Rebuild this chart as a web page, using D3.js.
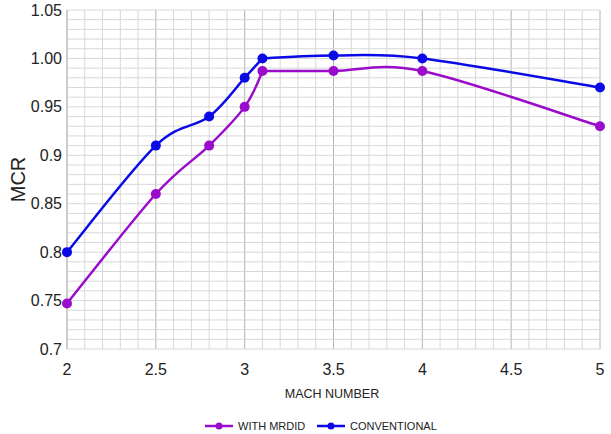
<!DOCTYPE html>
<html>
<head>
<meta charset="utf-8">
<script src="https://cdn.jsdelivr.net/npm/d3@7"></script>
<style>
  body { margin: 0; background: #fff; }
  text { font-family: "Liberation Sans", Arial, sans-serif; fill: #222; }
</style>
</head>
<body>
<svg id="chart" width="611" height="434"></svg>
<script>
const MACH = [2, 2.5, 2.8, 3, 3.1, 3.5, 4, 5];
const MRDID = [0.747, 0.86, 0.91, 0.95, 0.987, 0.987, 0.987, 0.93];
const CONVENTIONAL = [0.80, 0.91, 0.94, 0.98, 1.00, 1.003, 1.00, 0.97];
const X_TICKS = [2, 2.5, 3, 3.5, 4, 4.5, 5];
const Y_TICKS = [0.7, 0.75, 0.8, 0.85, 0.9, 0.95, 1.0, 1.05];
const Y_LABELS = ['0.7', '0.75', '0.8', '0.85', '0.9', '0.95', '1.00', '1.05'];

const SERIES = [
  { name: 'WITH MRDID', values: MRDID, color: '#9a0cc9' },
  { name: 'CONVENTIONAL', values: CONVENTIONAL, color: '#0a0ae6' },
];

// smoothed line that keeps a corner where the line turns sharply
function curveSmoothKink(context) {
  let pts = [];
  return {
    areaStart() {}, areaEnd() {},
    lineStart() { pts = []; },
    point(px, py) { pts.push([+px, +py]); },
    lineEnd() {
      const n = pts.length;
      if (!n) return;
      const tan = pts.map((p, i) => {
        if (i === 0) return [(pts[1][0] - p[0]) / 6, (pts[1][1] - p[1]) / 6];
        if (i === n - 1) return [(p[0] - pts[i - 1][0]) / 6, (p[1] - pts[i - 1][1]) / 6];
        const a = pts[i - 1], b = pts[i + 1];
        const t1 = Math.atan2(p[1] - a[1], p[0] - a[0]);
        const t2 = Math.atan2(b[1] - p[1], b[0] - p[0]);
        if (Math.abs(t2 - t1) > 0.7) return [0, 0];
        return [(b[0] - a[0]) / 6, (b[1] - a[1]) / 6];
      });
      context.moveTo(pts[0][0], pts[0][1]);
      for (let i = 0; i < n - 1; i++) {
        const p = pts[i], q = pts[i + 1];
        context.bezierCurveTo(p[0] + tan[i][0], p[1] + tan[i][1],
          q[0] - tan[i + 1][0], q[1] - tan[i + 1][1], q[0], q[1]);
      }
    }
  };
}

const svg = d3.select('#chart');
const x = d3.scaleLinear().domain([2, 5]).range([67, 600]);
const y = d3.scaleLinear().domain([0.7, 1.05]).range([349, 10]);

const grid = svg.append('g');
// vertical lines every 0.1, darker every 0.5
d3.range(20, 51).map(v => v / 10).forEach(v => {
  const major = Math.abs(v * 2 - Math.round(v * 2)) < 1e-9;
  grid.append('line')
    .attr('x1', x(v)).attr('x2', x(v))
    .attr('y1', y(1.05)).attr('y2', y(0.7))
    .attr('stroke', major ? '#b4b4b4' : '#d8d8d8')
    .attr('stroke-width', 1);
});
// horizontal lines every 0.01
d3.range(70, 106).map(v => v / 100).forEach(v => {
  grid.append('line')
    .attr('x1', x(2)).attr('x2', x(5))
    .attr('y1', y(v)).attr('y2', y(v))
    .attr('stroke', '#d8d8d8')
    .attr('stroke-width', 1);
});
grid.append('line')
  .attr('x1', x(2)).attr('x2', x(2)).attr('y1', y(1.05)).attr('y2', y(0.7))
  .attr('stroke', '#c0c0c0');

// tick labels
svg.append('g').selectAll('text')
  .data(Y_TICKS)
  .join('text')
  .attr('x', 62).attr('y', d => y(d))
  .attr('text-anchor', 'end').attr('dominant-baseline', 'central')
  .attr('font-size', '16px')
  .text((d, i) => Y_LABELS[i]);

svg.append('g').selectAll('text')
  .data(X_TICKS)
  .join('text')
  .attr('x', d => x(d)).attr('y', 375)
  .attr('text-anchor', 'middle')
  .attr('font-size', '16px')
  .text(d => d);

svg.append('text')
  .attr('transform', `translate(25,${y(0.875)}) rotate(-90)`)
  .attr('text-anchor', 'middle')
  .attr('font-size', '20px')
  .text('MCR');

svg.append('text')
  .attr('x', 332).attr('y', 398)
  .attr('text-anchor', 'middle')
  .attr('font-size', '12.5px')
  .text('MACH NUMBER');

// series
const line = d3.line()
  .x((d, i) => x(MACH[i]))
  .y(d => y(d))
  .curve(curveSmoothKink);

SERIES.forEach(s => {
  svg.append('path')
    .attr('d', line(s.values))
    .attr('fill', 'none')
    .attr('stroke', s.color)
    .attr('stroke-width', 2.5);
  svg.append('g').selectAll('circle')
    .data(s.values)
    .join('circle')
    .attr('cx', (d, i) => x(MACH[i]))
    .attr('cy', d => y(d))
    .attr('r', 5)
    .attr('fill', s.color);
});

// legend
const legendX = [205, 317];
SERIES.forEach((s, i) => {
  const g = svg.append('g').attr('transform', `translate(${legendX[i]},426)`);
  g.append('line').attr('x1', 0).attr('x2', 28).attr('y1', 0).attr('y2', 0)
    .attr('stroke', s.color).attr('stroke-width', 2.5);
  g.append('circle').attr('cx', 14).attr('cy', 0).attr('r', 3.5).attr('fill', s.color);
  g.append('text').attr('x', 33).attr('y', 0)
    .attr('dominant-baseline', 'central')
    .attr('font-size', '11px')
    .text(s.name);
});
</script>
</body>
</html>
